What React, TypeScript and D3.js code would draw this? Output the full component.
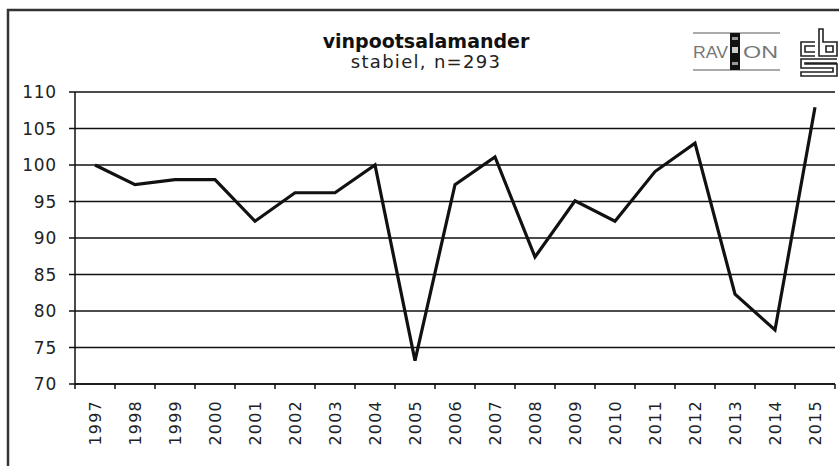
import React from "react";
import * as d3 from "d3";

const years = ["1997","1998","1999","2000","2001","2002","2003","2004","2005","2006","2007","2008","2009","2010","2011","2012","2013","2014","2015"];
const values = [100, 97.3, 98, 98, 92.3, 96.2, 96.2, 100, 73.2, 97.3, 101.1, 87.4, 95.1, 92.3, 99.1, 103, 82.3, 77.4, 107.9];
const yTicks = [70, 75, 80, 85, 90, 95, 100, 105, 110];
const title = "vinpootsalamander";
const subtitle = "stabiel, n=293";

const W = 839, H = 466;
const left = 75, right = 835, top = 92, bottom = 384;
const font = "DejaVu Sans, Verdana, sans-serif";

export default function App() {
  const x = d3.scaleBand<string>().domain(years).range([left, right]).padding(0);
  const y = d3.scaleLinear().domain([70, 110]).range([bottom, top]);
  const line = d3.line<number>()
    .x((_, i) => (x(years[i]) as number) + x.bandwidth() / 2)
    .y((d) => y(d));
  const boundaries = years.map((yr) => x(yr) as number).concat([right]);

  return (
    <svg width={W} height={H} style={{ position: "absolute", left: 0, top: 0, background: "#fff" }}>
      <rect x={0} y={0} width={W} height={H} fill="#fff" />
      <rect x={8} y={10} width={900} height={600} fill="none" stroke="#333" strokeWidth={2.5} />
      <text x={426} y={48} textAnchor="middle" fontFamily={font} fontWeight="bold" fontSize={19} fill="#111">{title}</text>
      <text x={426} y={68} textAnchor="middle" fontFamily={font} fontSize={18} letterSpacing={1.3} fill="#222">{subtitle}</text>

      {/* RAVON logo */}
      <g>
        <line x1={693} x2={780} y1={33} y2={33} stroke="#aaa" strokeWidth={2} />
        <line x1={693} x2={780} y1={70} y2={70} stroke="#aaa" strokeWidth={2} />
        <text x={693} y={58} fontFamily="Liberation Sans Narrow, Liberation Sans, sans-serif" fontSize={17} fill="#777" textLength={35} lengthAdjust="spacingAndGlyphs">RAV</text>
        <rect x={730} y={33} width={10} height={37} fill="#111" />
        <rect x={732} y={37} width={6} height={3} fill="#999" />
        <rect x={732} y={47} width={6} height={6} fill="#ccc" />
        <rect x={732} y={62} width={6} height={3} fill="#999" />
        <text x={743} y={58} fontFamily="Liberation Sans Narrow, Liberation Sans, sans-serif" fontSize={17} fill="#777" textLength={35} lengthAdjust="spacingAndGlyphs">ON</text>
      </g>
      {/* cbs logo */}
      <g fill="none" stroke="#222" strokeWidth={1.6}>
        <path d="M815,42 L801,42 L801,56 L815,56 M815,46 L805,46 L805,52 L815,52" />
        <path d="M819,29 L823,29 L823,42 L837,42 L837,56 L819,56 Z M826,46 L833,46 L833,52 L826,52 Z" />
        <path d="M837,59 L801,59 L801,68 L833,68 L833,72 L801,72 L801,76 L837,76 L837,64 L805,64 L805,63 L837,63" />
      </g>

      {/* gridlines */}
      {yTicks.map((t) => (
        <line key={"g" + t} x1={left - 6} x2={right} y1={y(t)} y2={y(t)} stroke="#111" strokeWidth={1.5} />
      ))}
      {yTicks.map((t) => (
        <text key={"yl" + t} x={57} y={y(t)} textAnchor="end" dominantBaseline="central" fontFamily={font} fontSize={17} letterSpacing={0.8} fill="#222">{t}</text>
      ))}
      {/* axes */}
      <line x1={left} x2={left} y1={top} y2={bottom} stroke="#111" strokeWidth={1.5} />
      <line x1={left} x2={right} y1={bottom} y2={bottom} stroke="#111" strokeWidth={1.5} />
      {boundaries.map((b, i) => (
        <line key={"xt" + i} x1={b} x2={b} y1={bottom} y2={bottom + 5} stroke="#111" strokeWidth={1.5} />
      ))}
      {years.map((yr) => {
        const cx = (x(yr) as number) + x.bandwidth() / 2;
        return (
          <text key={"xl" + yr} transform={`translate(${cx},400) rotate(-90)`} textAnchor="end" dominantBaseline="central" fontFamily={font} fontSize={16} letterSpacing={1.2} fill="#222">{yr}</text>
        );
      })}
      <path d={line(values) || ""} fill="none" stroke="#111" strokeWidth={3.2} strokeLinejoin="miter" />
    </svg>
  );
}
